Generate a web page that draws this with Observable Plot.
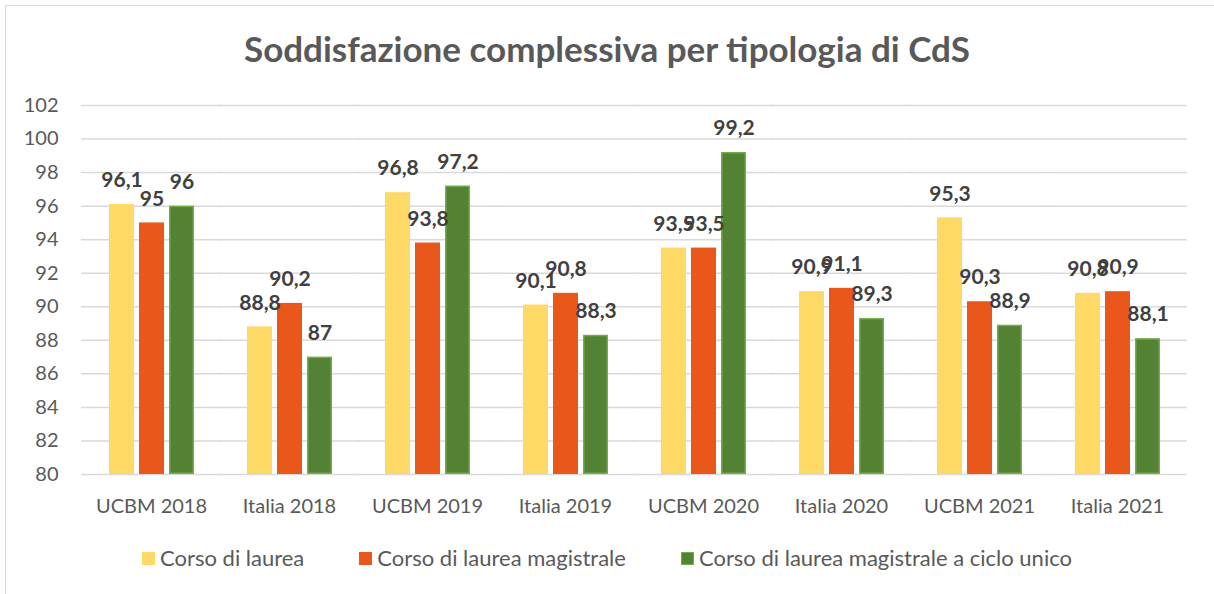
<!DOCTYPE html>
<html>
<head>
<meta charset="utf-8">
<script src="https://cdn.jsdelivr.net/npm/d3@7"></script>
<script src="https://cdn.jsdelivr.net/npm/@observablehq/plot@0.6"></script>
<style>
  html, body { margin: 0; padding: 0; background: #fff; }
  body { width: 1214px; height: 594px; position: relative; overflow: hidden; font-family: Lato, "Open Sans", sans-serif; }
  #frame { position: absolute; left: 5px; top: 5px; width: 1230px; height: 610px; border: 1.5px solid #D9D9D9; box-sizing: border-box; }
  #title { position: absolute; left: 0; width: 1214px; top: 26px; text-align: center; font-size: 35px; font-weight: 700; color: #595959; line-height: 44px; }
  #chart { position: absolute; left: 0; top: 80px; }
  #legend { position: absolute; left: 0; width: 1214px; top: 545px; display: flex; justify-content: center; gap: 55px; font-size: 22px; color: #595959; line-height: 26px; }
  .item { display: flex; align-items: center; gap: 5px; }
  .sw { width: 13px; height: 13px; display: inline-block; box-sizing: border-box; }
</style>
</head>
<body>
<div id="frame"></div>
<div id="title">Soddisfazione complessiva per tipologia di CdS</div>
<div id="chart"></div>
<div id="legend"></div>
<script>
const categories = ["UCBM 2018", "Italia 2018", "UCBM 2019", "Italia 2019", "UCBM 2020", "Italia 2020", "UCBM 2021", "Italia 2021"];
const seriesNames = ["Corso di laurea", "Corso di laurea magistrale", "Corso di laurea magistrale a ciclo unico"];
const corsoLaurea = [96.1, 88.8, 96.8, 90.1, 93.5, 90.9, 95.3, 90.8];
const corsoMagistrale = [95, 90.2, 93.8, 90.8, 93.5, 91.1, 90.3, 90.9];
const corsoCicloUnico = [96, 87, 97.2, 88.3, 99.2, 89.3, 88.9, 88.1];
const yTicks = [80, 82, 84, 86, 88, 90, 92, 94, 96, 98, 100, 102];
const colors = ["#FFD966", "#E9581A", "#548235"];
const strokes = ["#FFD966", "#E9581A", "#70AD47"];

const seriesValues = [corsoLaurea, corsoMagistrale, corsoCicloUnico];
const data = [];
categories.forEach((c, i) => {
  seriesNames.forEach((s, j) => {
    data.push({category: c, series: s, value: seriesValues[j][i]});
  });
});

const fmt = v => String(v).replace(".", ",");

const fxPad = 0.377;
const chart = Plot.plot({
  width: 1214,
  height: 450,
  marginLeft: 82,
  marginRight: 28,
  marginTop: 25,
  marginBottom: 56,
  style: {fontFamily: "Lato, 'Open Sans', sans-serif", fontSize: "20px", color: "#595959", background: "transparent"},
  fx: {domain: categories, paddingInner: fxPad, paddingOuter: fxPad / 2, label: null},
  x: {domain: seriesNames, paddingInner: 0.18, paddingOuter: 0, axis: null},
  y: {domain: [80, 102], label: null},
  color: {domain: seriesNames, range: colors},
  marks: [
    Plot.ruleY(yTicks, {stroke: "#D9D9D9", strokeWidth: 1.5, insetLeft: -27, insetRight: -27}),
    Plot.axisY(yTicks, {tickSize: 0, tickPadding: 50, tickFormat: d => String(d), label: null, fill: "#595959", fontSize: 20}),
    Plot.axisFx({anchor: "bottom", tickSize: 0, tickPadding: 24, label: null, fill: "#595959", fontSize: 20}),
    Plot.barY(data, {fx: "category", x: "series", y1: 80, y2: "value", fill: "series",
      stroke: d => strokes[seriesNames.indexOf(d.series)], strokeWidth: 1.5, inset: 0.75}),
    Plot.text(data, {fx: "category", x: "series", y: "value", text: d => fmt(d.value), dy: -24,
      fontWeight: 700, fontSize: 21, fill: "#404040"})
  ]
});
document.getElementById("chart").appendChild(chart);

const legend = document.getElementById("legend");
seriesNames.forEach((s, j) => {
  const item = document.createElement("div");
  item.className = "item";
  const sw = document.createElement("span");
  sw.className = "sw";
  sw.style.background = colors[j];
  sw.style.border = "1.5px solid " + strokes[j];
  const label = document.createElement("span");
  label.textContent = s;
  item.appendChild(sw);
  item.appendChild(label);
  legend.appendChild(item);
});
</script>
</body>
</html>
